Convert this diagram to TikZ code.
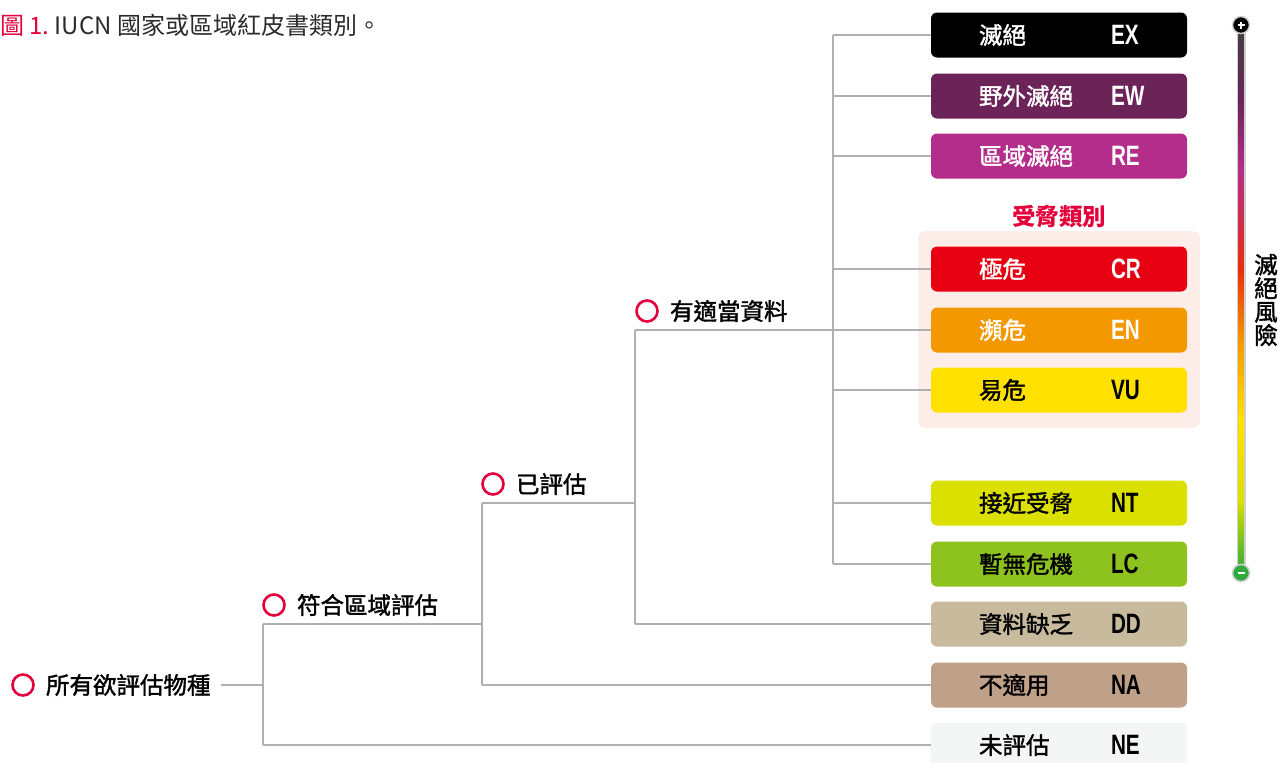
\documentclass[tikz,border=0pt]{standalone}
\usepackage{fontspec}
\setmainfont{Noto Sans CJK TC}
\newfontfamily\medfont[FakeBold=1.6]{Noto Sans CJK TC}
\newfontfamily\codefont[FakeStretch=0.74]{Liberation Sans}
\usetikzlibrary{positioning}

\definecolor{treegrey}{HTML}{B0B0B0}
\definecolor{ringred}{HTML}{E4003B}
\definecolor{titlegrey}{HTML}{2B2B2B}
\definecolor{threatbg}{HTML}{FCEDE8}
\definecolor{halogrey}{HTML}{CFCFCF}
\definecolor{cEX}{HTML}{000000}
\definecolor{cEW}{HTML}{6B2358}
\definecolor{cRE}{HTML}{B52D8A}
\definecolor{cCR}{HTML}{E60012}
\definecolor{cEN}{HTML}{F39800}
\definecolor{cVU}{HTML}{FFE100}
\definecolor{cNT}{HTML}{DCE000}
\definecolor{cLC}{HTML}{8DC21F}
\definecolor{cDD}{HTML}{C8BA9C}
\definecolor{cNA}{HTML}{BFA088}
\definecolor{cNE}{HTML}{F4F6F5}
\definecolor{cLow}{HTML}{2EAA3A}

\begin{document}
\begin{tikzpicture}[x=1pt,y=-1pt]
	\useasboundingbox (0,0) rectangle (1288,763);
	\tikzstyle{tree}=[draw=treegrey, line width=1.5pt]
	\tikzstyle{ring}=[circle, draw=ringred, line width=2.6pt, minimum size=21pt, inner sep=0pt]
	\tikzstyle{tag}=[anchor=west, inner sep=0pt, font=\medfont\fontsize{23.5}{24}\selectfont]
	\tikzstyle{catbox}=[rectangle, rounded corners=6pt, minimum width=256pt, minimum height=45pt, inner sep=0pt]
	\tikzstyle{catname}=[anchor=west, inner sep=0pt, font=\medfont\fontsize{23.5}{24}\selectfont]
	\tikzstyle{catcode}=[anchor=west, inner sep=0pt, font=\codefont\bfseries\fontsize{28}{28}\selectfont]

	% title
	\node[anchor=west, inner sep=0pt, font=\fontsize{24}{24}\selectfont] (title) at (0,25) {\textcolor{ringred}{圖\ 1.}\ \textcolor{titlegrey}{IUCN\ 國家或區域紅皮書類別。}};

	% threatened group
	\path[fill=threatbg, rounded corners=8pt] (918,231) rectangle (1200,428);
	\node[font=\bfseries\fontsize{23.5}{24}\selectfont, text=ringred, inner sep=0pt] (threat) at (1059,217) {受脅類別};

	% category boxes
	\node[catbox, fill=cEX] (ex) at (1059,35) {};
	\node[catname, text=white, right=48pt of ex.west] (ex-n) {滅絕};
	\node[catcode, text=white, right=180pt of ex.west] (ex-c) {EX};
	\node[catbox, fill=cEW] (ew) at (1059,96) {};
	\node[catname, text=white, right=48pt of ew.west] (ew-n) {野外滅絕};
	\node[catcode, text=white, right=180pt of ew.west] (ew-c) {EW};
	\node[catbox, fill=cRE] (re) at (1059,156) {};
	\node[catname, text=white, right=48pt of re.west] (re-n) {區域滅絕};
	\node[catcode, text=white, right=180pt of re.west] (re-c) {RE};
	\node[catbox, fill=cCR] (cr) at (1059,269) {};
	\node[catname, text=white, right=48pt of cr.west] (cr-n) {極危};
	\node[catcode, text=white, right=180pt of cr.west] (cr-c) {CR};
	\node[catbox, fill=cEN] (en) at (1059,330) {};
	\node[catname, text=white, right=48pt of en.west] (en-n) {瀕危};
	\node[catcode, text=white, right=180pt of en.west] (en-c) {EN};
	\node[catbox, fill=cVU] (vu) at (1059,390) {};
	\node[catname, right=48pt of vu.west] (vu-n) {易危};
	\node[catcode, right=180pt of vu.west] (vu-c) {VU};
	\node[catbox, fill=cNT] (nt) at (1059,503) {};
	\node[catname, right=48pt of nt.west] (nt-n) {接近受脅};
	\node[catcode, right=180pt of nt.west] (nt-c) {NT};
	\node[catbox, fill=cLC] (lc) at (1059,564) {};
	\node[catname, right=48pt of lc.west] (lc-n) {暫無危機};
	\node[catcode, right=180pt of lc.west] (lc-c) {LC};
	\node[catbox, fill=cDD] (dd) at (1059,624) {};
	\node[catname, right=48pt of dd.west] (dd-n) {資料缺乏};
	\node[catcode, right=180pt of dd.west] (dd-c) {DD};
	\node[catbox, fill=cNA] (na) at (1059,685) {};
	\node[catname, right=48pt of na.west] (na-n) {不適用};
	\node[catcode, right=180pt of na.west] (na-c) {NA};
	\node[catbox, fill=cNE] (ne) at (1059,745) {};
	\node[catname, right=48pt of ne.west] (ne-n) {未評估};
	\node[catcode, right=180pt of ne.west] (ne-c) {NE};

	% tree labels
	\node[ring] (r0) at (23,685) {};
	\node[tag, right=11pt of r0] (all) {所有欲評估物種};
	\node[ring] (r1) at (274,605) {};
	\node[tag, right=11pt of r1] (regional) {符合區域評估};
	\node[ring] (r2) at (493,484) {};
	\node[tag, right=11pt of r2] (assessed) {已評估};
	\node[ring] (r3) at (647,311) {};
	\node[tag, right=11pt of r3] (data) {有適當資料};

	% junctions
	\coordinate (j0) at (263,685);
	\coordinate (j0a) at (263,624);
	\coordinate (j0b) at (263,745);
	\coordinate (j1a) at (482,503);
	\coordinate (j1b) at (482,685);
	\coordinate (j2a) at (635,330);
	\coordinate (j2b) at (635,624);
	\coordinate (j3a) at (833,35);
	\coordinate (j3b) at (833,564);

	\draw[tree] ([xshift=10pt]all.east) -- (j0);
	\draw[tree] (j0a) -- (j0b);
	\draw[tree] (j0a) -- (j1a |- j0a);
	\draw[tree] (j0b) -- (ne.west);
	\draw[tree] (j1a) -- (j1b);
	\draw[tree] (j1b) -- (na.west);
	\draw[tree] (j1a) -- (j2a |- j1a);
	\draw[tree] (j2a) -- (j2b);
	\draw[tree] (j2b) -- (dd.west);
	\draw[tree] (j2a) -- (en.west);
	\draw[tree] (j3a) -- (j3b);
	\draw[tree] (j3a) -- (ex.west);
	\draw[tree] (j3a |- ew.west) -- (ew.west);
	\draw[tree] (j3a |- re.west) -- (re.west);
	\draw[tree] (j3a |- cr.west) -- (cr.west);
	\draw[tree] (j3a |- vu.west) -- (vu.west);
	\draw[tree] (j3a |- nt.west) -- (nt.west);
	\draw[tree] (j3b) -- (lc.west);

	% risk scale
	\coordinate (hi) at (1241,25);
	\coordinate (lo) at (1241,573);
	\draw[draw=halogrey, line width=9pt] (hi) -- (lo);
	\shade[top color=black!75, bottom color=cEW] (1238.2,25) rectangle (1243.8,100);
	\shade[top color=cEW, bottom color=cRE] (1238.2,100) rectangle (1243.8,170);
	\shade[top color=cRE, bottom color=cCR!70!cEN] (1238.2,170) rectangle (1243.8,270);
	\shade[top color=cCR!70!cEN, bottom color=cEN] (1238.2,270) rectangle (1243.8,340);
	\shade[top color=cEN, bottom color=cVU] (1238.2,340) rectangle (1243.8,420);
	\shade[top color=cVU, bottom color=cNT] (1238.2,420) rectangle (1243.8,500);
	\shade[top color=cNT, bottom color=cLow] (1238.2,500) rectangle (1243.8,573);
	\node[circle, fill=black, draw=halogrey, line width=1.5pt, minimum size=17pt, inner sep=0pt] (plus) at (hi) {};
	\draw[white, line width=1.5pt] ([xshift=-3.5pt]plus.center) -- ([xshift=3.5pt]plus.center);
	\draw[white, line width=1.5pt] ([yshift=-3.5pt]plus.center) -- ([yshift=3.5pt]plus.center);
	\node[circle, fill=cLow, draw=halogrey, line width=1.5pt, minimum size=17pt, inner sep=0pt] (minus) at (lo) {};
	\draw[white, line width=1.8pt] ([xshift=-3.5pt]minus.center) -- ([xshift=3.5pt]minus.center);
	\node[font=\medfont\fontsize{23.5}{23.5}\selectfont, align=center, inner sep=0pt] (risk) at (1266,300) {滅\\絕\\風\\險};
\end{tikzpicture}
\end{document}
